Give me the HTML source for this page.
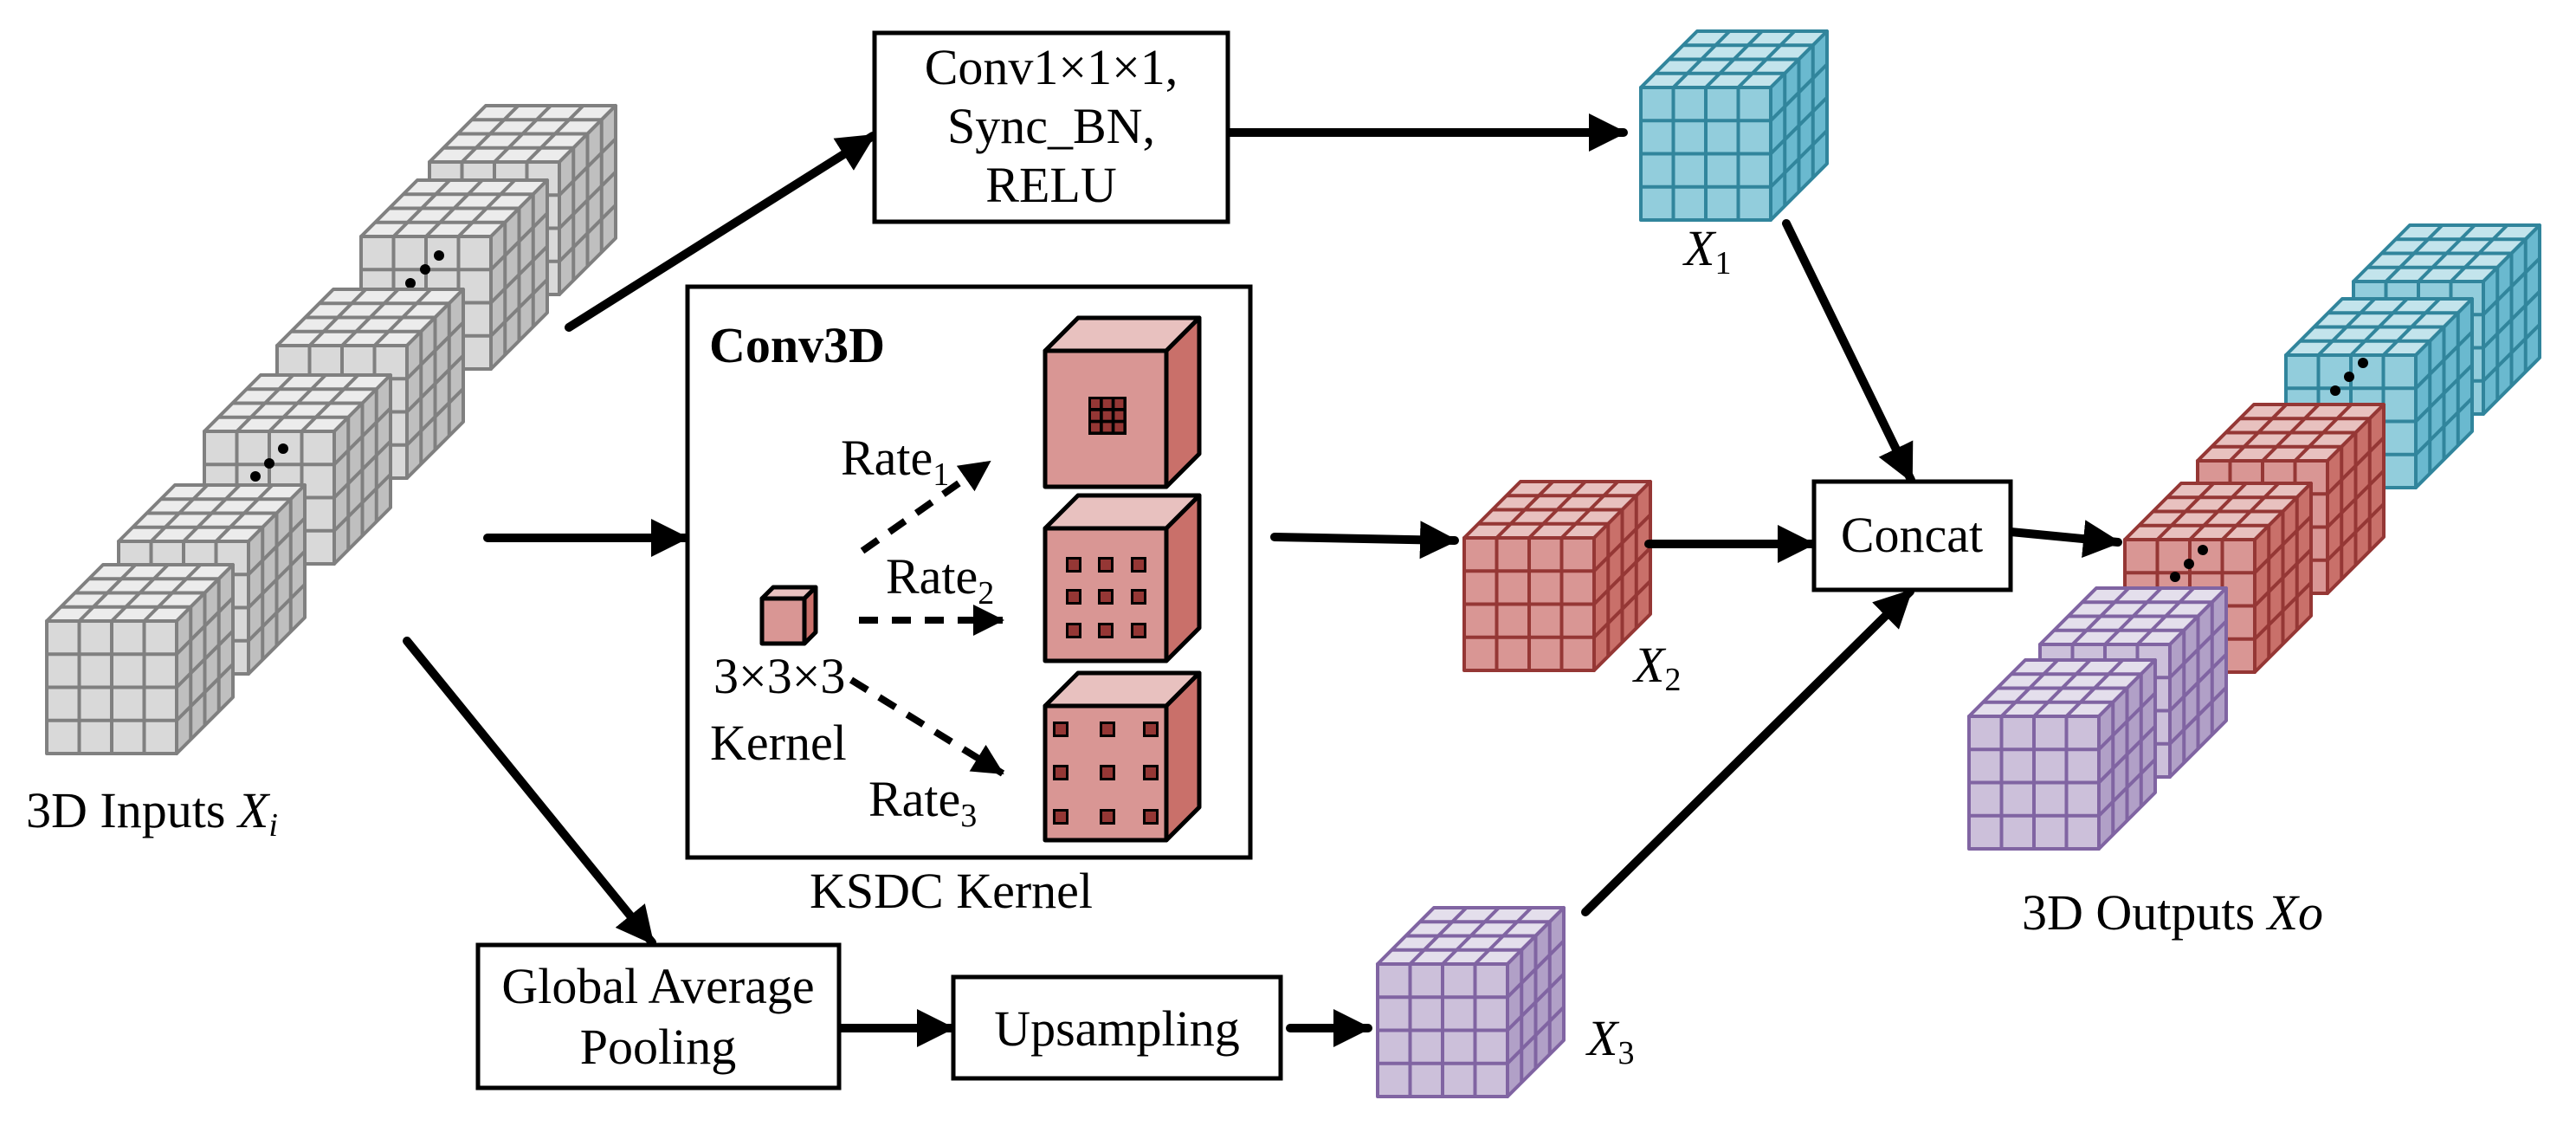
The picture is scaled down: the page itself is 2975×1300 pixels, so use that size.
<!DOCTYPE html>
<html><head><meta charset="utf-8"><style>html,body{margin:0;padding:0;background:#fff}svg{display:block}text{font-family:"Liberation Serif","Times New Roman",serif;fill:#000}</style></head>
<body>
<svg id="s" width="2975" height="1300" viewBox="0 0 2975 1300" xmlns="http://www.w3.org/2000/svg">
<defs>
<marker id="ah" markerUnits="userSpaceOnUse" markerWidth="50" markerHeight="50" refX="40" refY="22" orient="auto"><path d="M0,0 L44,22 L0,44 Z" fill="#000"/></marker>
<marker id="ad" markerUnits="userSpaceOnUse" markerWidth="40" markerHeight="40" refX="34" refY="18" orient="auto"><path d="M0,0 L36,18 L0,36 Z" fill="#000"/></marker>
</defs>
<g id="cubes"></g>
<g stroke="#000" stroke-width="10" stroke-linecap="round" fill="none" marker-end="url(#ah)">
<line x1="657" y1="378" x2="1008" y2="157"/>
<line x1="563" y1="621" x2="792" y2="621"/>
<line x1="470" y1="740" x2="753" y2="1088"/>
<line x1="1418" y1="153" x2="1875" y2="153"/>
<line x1="1472" y1="620" x2="1680" y2="624"/>
<line x1="1904" y1="628" x2="2093" y2="628"/>
<line x1="2063" y1="258" x2="2207" y2="554"/>
<line x1="1831" y1="1053" x2="2206" y2="683"/>
<line x1="2322" y1="614" x2="2446" y2="626"/>
<line x1="969" y1="1187" x2="1099" y2="1187"/>
<line x1="1490" y1="1187" x2="1580" y2="1187"/>
</g>
<g fill="#fff" stroke="#000" stroke-width="5">
<rect x="1010" y="38" width="408" height="218"/>
<rect x="794" y="331" width="650" height="659"/>
<rect x="2095" y="556" width="227" height="125"/>
<rect x="552" y="1091" width="417" height="165"/>
<rect x="1101" y="1128" width="378" height="117"/>
</g>
<g id="k"></g>
<g stroke="#000" stroke-width="8" stroke-dasharray="22 16" fill="none" marker-end="url(#ad)">
<line x1="996" y1="636" x2="1143" y2="533"/>
<line x1="992" y1="716" x2="1158" y2="716"/>
<line x1="983" y1="785" x2="1158" y2="893"/>
</g>
<g font-size="58" font-family="'Liberation Serif','Times New Roman',serif">
<text x="1214" y="97" text-anchor="middle">Conv1×1×1,</text>
<text x="1214" y="165" text-anchor="middle">Sync_BN,</text>
<text x="1214" y="233" text-anchor="middle">RELU</text>
<text x="819" y="418" font-weight="bold">Conv3D</text>
<text x="971" y="548">Rate<tspan font-size="38" dy="12">1</tspan></text>
<text x="1023" y="685">Rate<tspan font-size="38" dy="12">2</tspan></text>
<text x="1003" y="942">Rate<tspan font-size="38" dy="12">3</tspan></text>
<text x="824" y="800">3×3×3</text>
<text x="820" y="877">Kernel</text>
<text x="935" y="1048">KSDC Kernel</text>
<text x="2208" y="637" text-anchor="middle">Concat</text>
<text x="760" y="1158" text-anchor="middle">Global Average</text>
<text x="760" y="1228" text-anchor="middle">Pooling</text>
<text x="1290" y="1207" text-anchor="middle">Upsampling</text>
<text x="1945" y="306" font-style="italic">X<tspan font-style="normal" font-size="38" dy="10">1</tspan></text>
<text x="1887" y="787" font-style="italic">X<tspan font-style="normal" font-size="38" dy="10">2</tspan></text>
<text x="1833" y="1218" font-style="italic">X<tspan font-style="normal" font-size="38" dy="10">3</tspan></text>
<text x="30" y="955">3D Inputs <tspan font-style="italic">X</tspan><tspan font-style="italic" font-size="38" dy="10">i</tspan></text>
<text x="2335" y="1073">3D Outputs <tspan font-style="italic">Xo</tspan></text>
</g>
</svg>
<script>
var NS="http://www.w3.org/2000/svg";
function el(p,t,a){var e=document.createElementNS(NS,t);for(var k in a)e.setAttribute(k,a[k]);p.appendChild(e);return e;}
var C={g:["#d9d9d9","#ececec","#bfbfbf","#808080"],c:["#92cddc","#c3e4ec","#6ab9cf","#31859c"],r:["#d99694","#e8c1bf","#c9706a","#953735"],p:["#ccc0da","#e4dfec","#b1a0c7","#8064a2"]};
var G=document.getElementById("cubes");
function cube(x,y,c,w,h,d){w=w||150;h=h||153;d=d||65;var col=C[c],g=el(G,"g",{stroke:col[3],"stroke-width":4,"stroke-linejoin":"round"});
el(g,"rect",{x:x,y:y,width:w,height:h,fill:col[0]});
el(g,"polygon",{points:[x,y,x+w,y,x+w+d,y-d,x+d,y-d].join(","),fill:col[1]});
el(g,"polygon",{points:[x+w,y,x+w+d,y-d,x+w+d,y+h-d,x+w,y+h].join(","),fill:col[2]});
for(var i=1;i<4;i++){var f=i/4;
el(g,"line",{x1:x+w*f,y1:y,x2:x+w*f,y2:y+h});
el(g,"line",{x1:x,y1:y+h*f,x2:x+w,y2:y+h*f});
el(g,"line",{x1:x+d*f,y1:y-d*f,x2:x+w+d*f,y2:y-d*f});
el(g,"line",{x1:x+w*f,y1:y,x2:x+w*f+d,y2:y-d});
el(g,"line",{x1:x+w+d*f,y1:y-d*f,x2:x+w+d*f,y2:y+h-d*f});
el(g,"line",{x1:x+w,y1:y+h*f,x2:x+w+d,y2:y+h*f-d});}
return g;}
function dots(a){a.forEach(function(p){el(G,"circle",{cx:p[0],cy:p[1],r:6,fill:"#000"});});}
cube(496,187,"g");cube(417,273,"g");dots([[474,327],[491,311],[507,295]]);
cube(320,399,"g");cube(236,498,"g");dots([[295,550],[311,535],[327,518]]);
cube(137,625,"g");cube(54,717,"g");
cube(1895,101,"c");cube(1691,621,"r");cube(1591,1113,"p");
cube(2718,325,"c");cube(2640,410,"c");dots([[2697,451],[2713,435],[2729,419]]);
cube(2538,532,"r");cube(2454,623,"r");dots([[2512,666],[2528,651],[2544,635]]);
cube(2356,744,"p");cube(2274,827,"p");
var K=document.getElementById("k");
function kc(x,y,w,h,d){var g=el(K,"g",{stroke:"#000","stroke-width":5,"stroke-linejoin":"round"});
el(g,"polygon",{points:[x,y,x+w,y,x+w+d,y-d,x+d,y-d].join(","),fill:"#e8c1bf"});
el(g,"polygon",{points:[x+w,y,x+w+d,y-d,x+w+d,y+h-d,x+w,y+h].join(","),fill:"#c9706a"});
el(g,"rect",{x:x,y:y,width:w,height:h,fill:"#d99694"});}
kc(880,691,49,52,13);
kc(1207,405,140,157,38);kc(1207,610,140,153,38);kc(1207,815,140,155,38);
var sq=function(cx,cy,s){el(K,"rect",{x:cx-s/2,y:cy-s/2,width:s,height:s,fill:"#953735",stroke:"#000","stroke-width":3});};
el(K,"rect",{x:1257,y:458,width:44,height:44,fill:"#000"});
for(var i=0;i<3;i++)for(var j=0;j<3;j++){el(K,"rect",{x:1260+i*13.7,y:461+j*13.7,width:10,height:10,fill:"#953735"});}
[1240,1277,1315].forEach(function(x){[652,689,728].forEach(function(y){sq(x,y,15);});});
[1225,1279,1329].forEach(function(x){[842,892,943].forEach(function(y){sq(x,y,15);});});
</script>
</body></html>
